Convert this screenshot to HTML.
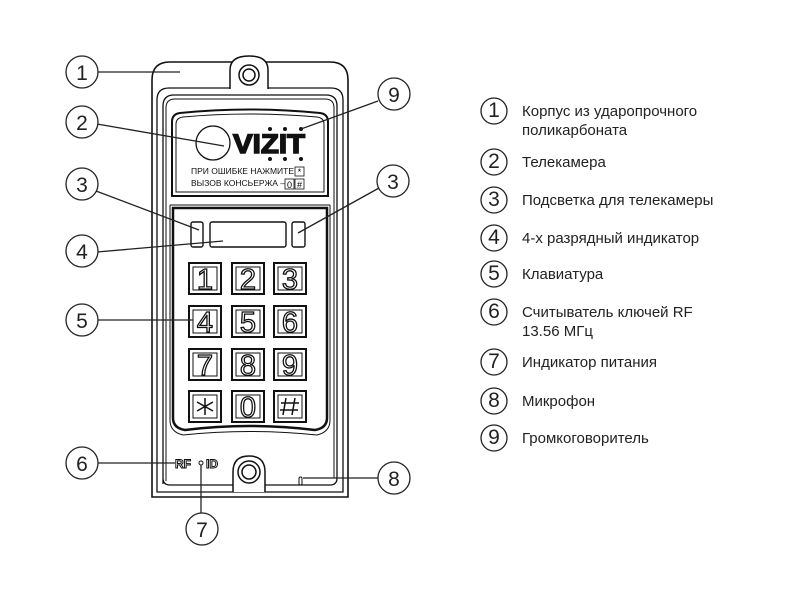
<!DOCTYPE html>
<html><head><meta charset="utf-8"><style>
html,body{margin:0;padding:0;background:#fff;}
svg{display:block;}
.c{fill:#fff;stroke:#222;stroke-width:1.3}
.n{font-family:"Liberation Sans",sans-serif;font-size:21px;fill:#222;text-anchor:middle}
.l{font-family:"Liberation Sans","Noto Sans CJK SC",sans-serif;font-size:15px;fill:#222}
.ln{stroke:#222;stroke-width:1.3;fill:none}
.k{fill:#fff;stroke:#111;stroke-width:2}
.kd{font-family:"Liberation Sans",sans-serif;font-size:29px;fill:#fff;stroke:#111;stroke-width:1.3;text-anchor:middle}
</style></head><body>
<svg width="800" height="598" viewBox="0 0 800 598" xmlns="http://www.w3.org/2000/svg">
<path d="M152,497 L152,80 Q152,62 170,62 L330,62 Q348,62 348,80 L348,497 Z" fill="#fff" stroke="#111" stroke-width="1.6"/>
<path d="M157,492 L157,100 Q157,88 169,88 L331,88 Q343,88 343,100 L343,492 Z" fill="none" stroke="#111" stroke-width="1.3"/>
<path d="M163,484 L163,106 Q163,95 174,95 L326,95 Q337,95 337,106 L337,478 Q337,485 330,485 L170,485 Q163,485 163,478 Z" fill="none" stroke="#111" stroke-width="1.3"/>
<path d="M166,481 L166,108 Q166,99 175,99 L325,99 Q334,99 334,108 L334,478" fill="none" stroke="#111" stroke-width="1"/>
<path d="M230,89 L230,70 Q230,56 249,56 Q268,56 268,70 L268,89" fill="#fff" stroke="#111" stroke-width="1.5"/>
<circle cx="249" cy="75" r="10" fill="#fff" stroke="#111" stroke-width="1.5"/>
<circle cx="249" cy="75" r="6" fill="#fff" stroke="#111" stroke-width="1.5"/>
<path d="M172,196 L172,122 Q172,114 180,113 Q249,106 320,113 Q328,114 328,122 L328,196 Z" fill="#fff" stroke="#111" stroke-width="2"/>
<path d="M176,192 L176,124 Q176,118 183,117 Q249,111 317,117 Q324,118 324,124 L324,192 Z" fill="none" stroke="#111" stroke-width="1"/>
<circle cx="213" cy="143" r="17" fill="#fff" stroke="#111" stroke-width="1.3"/>
<text x="233" y="153" font-family="Liberation Sans,sans-serif" font-weight="bold" font-size="27" fill="#111" stroke="#111" stroke-width="1.5" textLength="72" lengthAdjust="spacingAndGlyphs">VIZIT</text>
<g fill="#111"><circle cx="270" cy="129" r="2"/><circle cx="285" cy="129" r="2"/><circle cx="301" cy="129" r="2"/><circle cx="270" cy="159" r="2"/><circle cx="285" cy="159" r="2"/><circle cx="301" cy="159" r="2"/></g>
<text x="191" y="174" font-family="Liberation Sans,sans-serif" font-size="8.5" fill="#111">ПРИ ОШИБКЕ НАЖМИТЕ</text>
<rect x="295" y="167" width="9" height="9" fill="#fff" stroke="#111" stroke-width="0.8"/><text x="299.5" y="175" font-size="9" text-anchor="middle" font-family="Liberation Sans,sans-serif">*</text>
<text x="191" y="186" font-family="Liberation Sans,sans-serif" font-size="8.5" fill="#111">ВЫЗОВ КОНСЬЕРЖА   –</text>
<rect x="285" y="179" width="9" height="10" fill="#fff" stroke="#111" stroke-width="0.8"/><text x="289.5" y="188" font-size="9" text-anchor="middle" font-family="Liberation Sans,sans-serif">0</text>
<rect x="295" y="179" width="9" height="10" fill="#fff" stroke="#111" stroke-width="0.8"/><text x="299.5" y="188" font-size="9" text-anchor="middle" font-family="Liberation Sans,sans-serif">#</text>
<path d="M173,208 L327,208 L327,418 Q327,428 315,430 Q249,422 185,430 Q173,428 173,418 Z" fill="#fff" stroke="#111" stroke-width="2.5"/>
<path d="M170,205 L330,205 M170,205 L170,420 Q170,432 183,435 Q249,428 317,435 Q330,432 330,420 L330,205" fill="none" stroke="#111" stroke-width="1"/>
<rect x="191" y="222" width="12" height="25" rx="2" fill="#fff" stroke="#111" stroke-width="1.4"/>
<rect x="210" y="222" width="76" height="25" rx="2" fill="#fff" stroke="#111" stroke-width="1.4"/>
<rect x="292" y="222" width="13" height="25" rx="2" fill="#fff" stroke="#111" stroke-width="1.4"/>
<g>
<rect class="k" x="189" y="263" width="32" height="31"/><rect x="193" y="267" width="24" height="23" fill="none" stroke="#111"/><text class="kd" x="205" y="289">1</text>
<rect class="k" x="232" y="263" width="32" height="31"/><rect x="236" y="267" width="24" height="23" fill="none" stroke="#111"/><text class="kd" x="248" y="289">2</text>
<rect class="k" x="274" y="263" width="32" height="31"/><rect x="278" y="267" width="24" height="23" fill="none" stroke="#111"/><text class="kd" x="290" y="289">3</text>
<rect class="k" x="189" y="306" width="32" height="31"/><rect x="193" y="310" width="24" height="23" fill="none" stroke="#111"/><text class="kd" x="205" y="332">4</text>
<rect class="k" x="232" y="306" width="32" height="31"/><rect x="236" y="310" width="24" height="23" fill="none" stroke="#111"/><text class="kd" x="248" y="332">5</text>
<rect class="k" x="274" y="306" width="32" height="31"/><rect x="278" y="310" width="24" height="23" fill="none" stroke="#111"/><text class="kd" x="290" y="332">6</text>
<rect class="k" x="189" y="349" width="32" height="31"/><rect x="193" y="353" width="24" height="23" fill="none" stroke="#111"/><text class="kd" x="205" y="375">7</text>
<rect class="k" x="232" y="349" width="32" height="31"/><rect x="236" y="353" width="24" height="23" fill="none" stroke="#111"/><text class="kd" x="248" y="375">8</text>
<rect class="k" x="274" y="349" width="32" height="31"/><rect x="278" y="353" width="24" height="23" fill="none" stroke="#111"/><text class="kd" x="290" y="375">9</text>
<rect class="k" x="189" y="391" width="32" height="31"/><rect x="193" y="395" width="24" height="23" fill="none" stroke="#111"/>
<g stroke="#111" stroke-width="1.5"><path d="M205,398 L205,415 M197,402 L213,411 M197,411 L213,402"/></g>
<rect class="k" x="232" y="391" width="32" height="31"/><rect x="236" y="395" width="24" height="23" fill="none" stroke="#111"/><text class="kd" x="248" y="417">0</text>
<rect class="k" x="274" y="391" width="32" height="31"/><rect x="278" y="395" width="24" height="23" fill="none" stroke="#111"/>
<g stroke="#111" stroke-width="1.5"><path d="M286,398 L283,415 M295,398 L292,415 M281,403 L299,403 M280,410 L298,410"/></g>
</g>
<text x="175" y="468" font-family="Liberation Sans,sans-serif" font-weight="bold" font-size="12" fill="#fff" stroke="#111" stroke-width="1">RF</text>
<circle cx="201" cy="463" r="2" fill="#fff" stroke="#111"/>
<text x="206" y="468" font-family="Liberation Sans,sans-serif" font-weight="bold" font-size="12" fill="#fff" stroke="#111" stroke-width="1">ID</text>
<path d="M233,492 L233,472 Q233,456 249,456 Q265,456 265,472 L265,492" fill="#fff" stroke="#111" stroke-width="1.5"/>
<circle cx="249" cy="472" r="11" fill="#fff" stroke="#111" stroke-width="1.5"/>
<circle cx="249" cy="472" r="7" fill="#fff" stroke="#111" stroke-width="1.5"/>
<rect x="299" y="477" width="3" height="8" rx="1.5" fill="#fff" stroke="#111"/>
<path class="ln" d="M98,72 L180,72"/>
<path class="ln" d="M97,124 L224,146"/>
<path class="ln" d="M96,191 L199,230"/>
<path class="ln" d="M97,252 L223,241"/>
<path class="ln" d="M97,320 L193,320"/>
<path class="ln" d="M97,463 L175,463"/>
<path class="ln" d="M201,465 L201,513"/>
<path class="ln" d="M303,478 L378,478"/>
<path class="ln" d="M378,101 L301,129"/>
<path class="ln" d="M379,188 L298,233"/>
<circle class="c" cx="82" cy="72" r="16"/><text class="n" x="82" y="80">1</text>
<circle class="c" cx="82" cy="122" r="16"/><text class="n" x="82" y="130">2</text>
<circle class="c" cx="82" cy="184" r="16"/><text class="n" x="82" y="192">3</text>
<circle class="c" cx="82" cy="251" r="16"/><text class="n" x="82" y="259">4</text>
<circle class="c" cx="82" cy="320" r="16"/><text class="n" x="82" y="328">5</text>
<circle class="c" cx="82" cy="463" r="16"/><text class="n" x="82" y="471">6</text>
<circle class="c" cx="202" cy="529" r="16"/><text class="n" x="202" y="537">7</text>
<circle class="c" cx="394" cy="478" r="16"/><text class="n" x="394" y="486">8</text>
<circle class="c" cx="394" cy="94" r="16"/><text class="n" x="394" y="102">9</text>
<circle class="c" cx="393" cy="181" r="16"/><text class="n" x="393" y="189">3</text>
<g>
<circle class="c" cx="494" cy="111" r="13"/><text class="n" x="494" y="117" font-size="17">1</text>
<text class="l" x="522" y="116">Корпус из ударопрочного</text><text class="l" x="522" y="135">поликарбоната</text>
<circle class="c" cx="494" cy="162" r="13"/><text class="n" x="494" y="168" font-size="17">2</text><text class="l" x="522" y="167">Телекамера</text>
<circle class="c" cx="494" cy="200" r="13"/><text class="n" x="494" y="206" font-size="17">3</text><text class="l" x="522" y="205">Подсветка для телекамеры</text>
<circle class="c" cx="494" cy="238" r="13"/><text class="n" x="494" y="244" font-size="17">4</text><text class="l" x="522" y="243">4-х разрядный индикатор</text>
<circle class="c" cx="494" cy="274" r="13"/><text class="n" x="494" y="280" font-size="17">5</text><text class="l" x="522" y="279">Клавиатура</text>
<circle class="c" cx="494" cy="312" r="13"/><text class="n" x="494" y="318" font-size="17">6</text><text class="l" x="522" y="317">Считыватель ключей RF</text><text class="l" x="522" y="336">13.56 МГц</text>
<circle class="c" cx="494" cy="362" r="13"/><text class="n" x="494" y="368" font-size="17">7</text><text class="l" x="522" y="367">Индикатор питания</text>
<circle class="c" cx="494" cy="401" r="13"/><text class="n" x="494" y="407" font-size="17">8</text><text class="l" x="522" y="406">Микрофон</text>
<circle class="c" cx="494" cy="438" r="13"/><text class="n" x="494" y="444" font-size="17">9</text><text class="l" x="522" y="443">Громкоговоритель</text>
</g>
</svg>
</body></html>
